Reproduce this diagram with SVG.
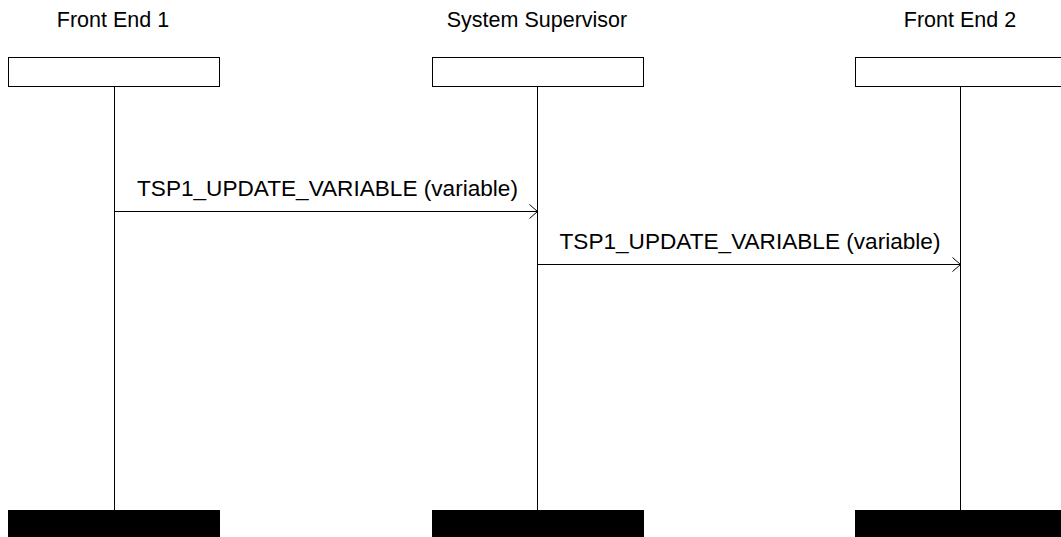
<svg xmlns="http://www.w3.org/2000/svg" width="1061" height="537" viewBox="0 0 1061 537">
  <style>
    .title { font-family: "Liberation Sans", Arial, sans-serif; font-size: 21.5px; fill: #000; text-anchor: middle; }
    .msg { font-family: "Liberation Sans", Arial, sans-serif; font-size: 22.6px; fill: #000; text-anchor: middle; }
    .head { fill: #fff; stroke: #000; stroke-width: 1; }
    .foot { fill: #000; stroke: #000; stroke-width: 1; }
    .life { stroke: #000; stroke-width: 1; fill: none; }
    .arrow { stroke: #000; stroke-width: 1; fill: none; marker-end: url(#open); }
  </style>
  <defs>
    <marker id="open" markerWidth="10" markerHeight="16" refX="9" refY="8" orient="auto" markerUnits="userSpaceOnUse">
      <path d="M1,1 L9,8 L1,15" fill="none" stroke="#000" stroke-width="1"/>
    </marker>
  </defs>
  <rect width="1061" height="537" fill="#fff"/>

  <g id="front-end-1">
    <text class="title" x="113" y="27">Front End 1</text>
    <rect class="head" x="8.5" y="57.5" width="211" height="29"/>
    <line class="life" x1="114.5" y1="86.5" x2="114.5" y2="510"/>
    <rect class="foot" x="8.5" y="510.5" width="211" height="30"/>
  </g>

  <g id="system-supervisor">
    <text class="title" x="537" y="27">System Supervisor</text>
    <rect class="head" x="432.5" y="57.5" width="211" height="29"/>
    <line class="life" x1="537.5" y1="86.5" x2="537.5" y2="510"/>
    <rect class="foot" x="432.5" y="510.5" width="211" height="30"/>
  </g>

  <g id="front-end-2">
    <text class="title" x="960" y="27">Front End 2</text>
    <rect class="head" x="855.5" y="57.5" width="211" height="29"/>
    <line class="life" x1="960.5" y1="86.5" x2="960.5" y2="510"/>
    <rect class="foot" x="855.5" y="510.5" width="211" height="30"/>
  </g>

  <g id="connectors">
    <line class="arrow" x1="114.5" y1="211.5" x2="537.5" y2="211.5"/>
    <text class="msg" x="327.5" y="196">TSP1_UPDATE_VARIABLE (variable)</text>
    <line class="arrow" x1="537.5" y1="264.5" x2="960.5" y2="264.5"/>
    <text class="msg" x="750" y="249">TSP1_UPDATE_VARIABLE (variable)</text>
  </g>
</svg>
